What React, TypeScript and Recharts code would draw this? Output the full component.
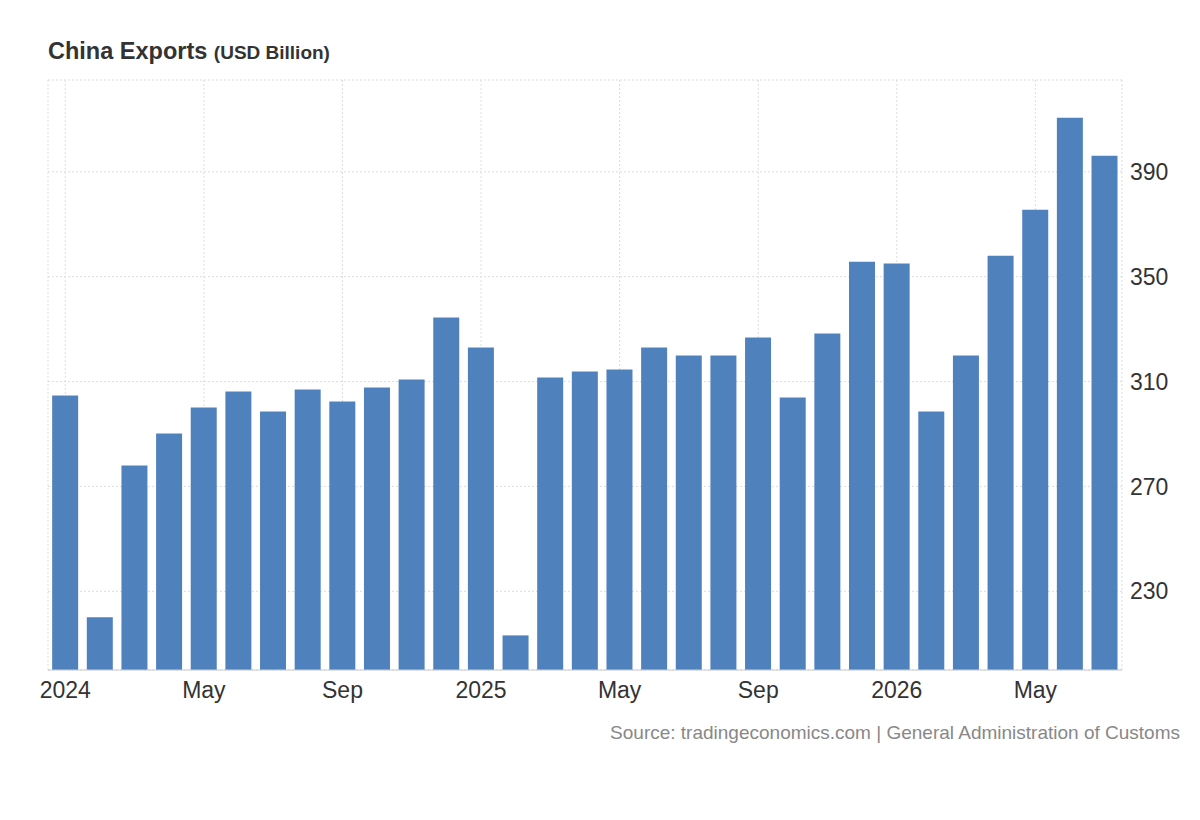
import React from 'react';
import { Bar, BarChart, CartesianGrid, XAxis, YAxis } from 'recharts';

const months = [
  '2024-01', '2024-02', '2024-03', '2024-04', '2024-05', '2024-06', '2024-07', '2024-08',
  '2024-09', '2024-10', '2024-11', '2024-12', '2025-01', '2025-02', '2025-03', '2025-04',
  '2025-05', '2025-06', '2025-07', '2025-08', '2025-09', '2025-10', '2025-11', '2025-12',
  '2026-01', '2026-02', '2026-03', '2026-04', '2026-05', '2026-06', '2026-07',
];

const exportsUsd = [
  304.7, 220.1, 278.0, 290.2, 300.1, 306.2, 298.6, 307.0, 302.4, 307.7, 310.8, 334.4,
  323.0, 213.2, 311.5, 313.8, 314.6, 323.0, 319.9, 319.9, 326.8, 303.9, 328.3, 355.7,
  355.0, 298.6, 319.9, 358.0, 375.5, 410.6, 396.1,
];

const tickMonths = ['2024-01', '2024-05', '2024-09', '2025-01', '2025-05', '2025-09', '2026-01', '2026-05'];
const tickLabels: Record<string, string> = {
  '2024-01': '2024', '2024-05': 'May', '2024-09': 'Sep',
  '2025-01': '2025', '2025-05': 'May', '2025-09': 'Sep',
  '2026-01': '2026', '2026-05': 'May',
};
const yTicks = [230, 270, 310, 350, 390];

const data = months.map((m, i) => ({ month: m, value: exportsUsd[i] }));

const font = 'Arial, "Liberation Sans", sans-serif';

export default function App() {
  return (
    <div style={{ position: 'relative', width: 1184, height: 800, fontFamily: font }}>
      <div style={{ position: 'absolute', left: 40, top: 30, color: '#333', fontWeight: 'bold', fontSize: 23.5 }}>
        China Exports <span style={{ fontSize: 19 }}>(USD Billion)</span>
      </div>
      <BarChart
        width={1184}
        height={702}
        data={data}
        margin={{ top: 72, right: 10, bottom: 10, left: 40 }}
        barCategoryGap="12%"
      >
        <CartesianGrid stroke="#ddd" strokeDasharray="2 2" />
        <XAxis
          dataKey="month"
          ticks={tickMonths}
          tickFormatter={(m: string) => tickLabels[m] ?? ''}
          interval={0}
          height={30}
          tick={{ fontSize: 23, fill: '#333', fontFamily: font }}
          tickLine={false}
          axisLine={{ stroke: '#ccc' }}
          tickMargin={6}
        />
        <YAxis
          orientation="right"
          domain={[200, 425]}
          ticks={yTicks}
          width={60}
          allowDataOverflow
          tick={{ fontSize: 23, fill: '#333', fontFamily: font, textAnchor: 'start' }}
          tickLine={false}
          axisLine={false}
          tickMargin={2}
        />
        <Bar dataKey="value" fill="#4f81bd" isAnimationActive={false} />
      </BarChart>
      <div style={{ position: 'absolute', right: 12, top: 714, color: '#888', fontSize: 19 }}>
        Source: tradingeconomics.com | General Administration of Customs
      </div>
    </div>
  );
}
